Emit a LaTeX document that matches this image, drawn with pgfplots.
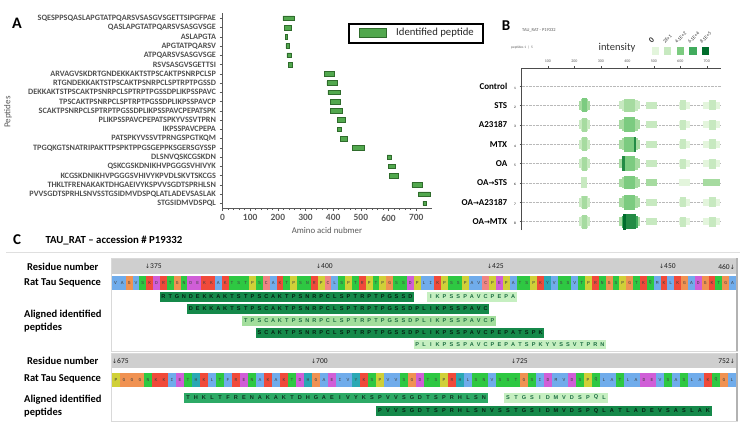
\documentclass[border=0pt]{standalone}
\usepackage{pgfplots}
\pgfplotsset{compat=1.18}
\usepackage{pgfplotstable}
\usepackage{fontspec}
\setmainfont{Carlito}
\newfontfamily\djv{DejaVu Sans}
\newfontfamily\lmono{Liberation Mono}
\newfontfamily\lsans{Liberation Sans}
\newcommand\fs[1]{\fontsize{#1}{#1}\selectfont}

\definecolor{barg}{HTML}{52A84E}
\definecolor{bard}{HTML}{2F6B2C}
\definecolor{lab}{HTML}{595959}
\definecolor{aahyd}{RGB}{112,172,235}
\definecolor{aapos}{RGB}{240,74,58}
\definecolor{aaneg}{RGB}{208,94,215}
\definecolor{aapol}{RGB}{46,200,66}
\definecolor{aagly}{RGB}{240,146,82}
\definecolor{aapro}{RGB}{208,208,56}
\definecolor{aacys}{RGB}{240,132,132}
\definecolor{aaaro}{RGB}{42,168,180}
\colorlet{aaA}{aahyd}\colorlet{aaV}{aahyd}\colorlet{aaL}{aahyd}\colorlet{aaI}{aahyd}
\colorlet{aaM}{aahyd}\colorlet{aaF}{aahyd}\colorlet{aaW}{aahyd}
\colorlet{aaK}{aapos}\colorlet{aaR}{aapos}
\colorlet{aaD}{aaneg}\colorlet{aaE}{aaneg}
\colorlet{aaS}{aapol}\colorlet{aaT}{aapol}\colorlet{aaN}{aapol}\colorlet{aaQ}{aapol}
\colorlet{aaG}{aagly}\colorlet{aaP}{aapro}\colorlet{aaC}{aacys}
\colorlet{aaH}{aaaro}\colorlet{aaY}{aaaro}

\definecolor{iA}{HTML}{E3F5DC}
\definecolor{iB}{HTML}{C7E9C0}
\definecolor{iC}{HTML}{A6DBA0}
\definecolor{iD}{HTML}{7CCB80}
\definecolor{iE}{HTML}{41AB5D}
\definecolor{iF}{HTML}{238B45}
\definecolor{iG}{HTML}{006D2C}

\definecolor{pdark}{HTML}{15894A}
\definecolor{pmed}{HTML}{2DAA66}
\definecolor{plmed}{HTML}{A3DE9C}
\definecolor{plight}{HTML}{C6EFC1}

\makeatletter
\def\cells#1#2#3#4#5{\def\sq@x{#1}\def\sq@w{#2}\def\sq@y{#3}\def\sq@h{#4}\sq@cl#5\@nil}
\def\sq@cl#1{\ifx#1\@nil\else
  \fill[aa#1] (\sq@x,\sq@y) rectangle ++(\sq@w,\sq@h);
  \node[font=\lmono\fs{4.6}, text=black!75, inner sep=0pt] at ({\sq@x+\sq@w/2},{\sq@y+\sq@h/2}) {#1};
  \pgfmathsetmacro\sq@x{\sq@x+\sq@w}%
  \expandafter\sq@cl\fi}
\def\plet#1#2#3#4#5{\def\sq@x{#1}\def\sq@w{#2}\def\sq@y{#3}\def\sq@c{#4}\sq@pl#5\@nil}
\def\sq@pl#1{\ifx#1\@nil\else
  \node[font=\lsans\bfseries\fs{5.6}, text=\sq@c, inner sep=0pt] at (\sq@x,\sq@y) {#1};
  \pgfmathsetmacro\sq@x{\sq@x+\sq@w}%
  \expandafter\sq@pl\fi}
\makeatother

\newcommand\bl[5]{\addplot[draw=#4, line width=#5pt] coordinates {(#2,#1) (#3,#1)};}
\newcommand\arr{{\djv\fs{7}→}}
\newcommand\rl[2]{\textbf{#1}\hspace{7pt}{\fs{3.5}#2}}

\pgfplotstableread{
y start len
21 218 41
20 225 24
19 226 8
18 229 12
17 233 16
16 238 15
15 368 37
14 377 37
13 381 44
12 389 37
11 391 42
10 414 28
9 416 13
8 427 23
7 470 42
6 595 14
5 600 24
4 602 35
3 684 38
2 708 42
1 724 13
}\pepA

\begin{document}
\begin{tikzpicture}
\path[use as bounding box] (0pt,0pt) rectangle (743pt,-433pt);

% ---------- background for panel C
\begin{scope}[x=1pt,y=-1pt]
\draw[gray!25, line width=0.6pt] (6,252) -- (740,252);
\draw[gray!30, fill=white] (111,258) rectangle (737,351);
\draw[gray!30, fill=white] (111,353) rectangle (737,421);
\fill[gray!38] (112,259) rectangle (736,274);
\fill[gray!38] (112,354) rectangle (736,368);
\draw[gray!60, line width=1.6pt] (737,258) -- (737,351);
\draw[gray!60, line width=1.6pt] (737,353) -- (737,421);
\end{scope}

% ---------- Panel A
\begin{axis}[
  at={(222.5pt,-208pt)}, anchor=south west, scale only axis,
  width=209.5pt, height=195pt,
  xmin=0, xmax=757, ymin=0.5, ymax=21.57,
  axis lines*=left,
  axis line style={lab, line width=0.7pt},
  xbar stacked, bar width=4.6pt,
  xtick={0,100,...,700}, minor x tick num=4,
  ytick={1,...,21},
  yticklabels={STGSIDMVDSPQL,PVVSGDTSPRHLSNVSSTGSIDMVDSPQLATLADEVSASLAK,THKLTFRENAKAKTDHGAEIVYKSPVVSGDTSPRHLSN,KCGSKDNIKHVPGGGSVHIVYKPVDLSKVTSKCGS,QSKCGSKDNIKHVPGGGSVHIVYK,DLSNVQSKCGSKDN,TPGQKGTSNATRIPAKTTPSPKTPPGSGEPPKSGERSGYSSP,PATSPKYVSSVTPRNGSPGTKQM,IKPSSPAVCPEPA,PLIKPSSPAVCPEPATSPKYVSSVTPRN,SCAKTPSNRPCLSPTRPTPGSSDPLIKPSSPAVCPEPATSPK,TPSCAKTPSNRPCLSPTRPTPGSSDPLIKPSSPAVCP,DEKKAKTSTPSCAKTPSNRPCLSPTRPTPGSSDPLIKPSSPAVC,RTGNDEKKAKTSTPSCAKTPSNRPCLSPTRPTPGSSD,ARVAGVSKDRTGNDEKKAKTSTPSCAKTPSNRPCLSP,RSVSASGVSGETTSI,ATPQARSVSASGVSGE,APGTATPQARSV,ASLAPGTA,QASLAPGTATPQARSVSASGVSGE,SQESPPSQASLAPGTATPQARSVSASGVSGETTSIPGFPAE},
  tick style={lab, line width=0.5pt},
  tick align=outside, major tick length=3pt, minor tick length=2pt,
  x tick label style={font=\bfseries\fs{9.5}, text=lab},
  y tick label style={font=\bfseries\fs{8.2}, text=lab!90!black},
  /pgf/number format/assume math mode=true,
  clip=false,
]
\addplot[draw=none, fill=none] table[x=start, y=y]{\pepA};
\addplot[fill=barg, draw=bard, line width=0.6pt] table[x=len, y=y]{\pepA};
\end{axis}

% ---------- Panel B
\begin{axis}[
  at={(521.5pt,-230pt)}, anchor=south west, scale only axis,
  width=199pt, height=162pt,
  xmin=0, xmax=752, ymin=0.57, ymax=8.93,
  axis x line*=top, axis y line*=left, no markers,
  xtick={100,200,...,700}, ytick={1,...,8},
  yticklabels={\rl{OA\arr MTX}{8},\rl{OA\arr A23187}{7},\rl{OA\arr STS}{6},\rl{OA}{5},\rl{MTX}{4},\rl{A23187}{3},\rl{STS}{2},\rl{Control}{1}},
  ymajorgrids, grid style={densely dotted, gray!55, line width=0.4pt},
  axis line style={gray!60!black, line width=0.5pt},
  tick style={gray!60!black, line width=0.4pt},
  major tick length=2pt, tick align=outside,
  x tick label style={font=\fs{4}, text=gray!70!black},
  y tick label style={font=\fs{9}, text=black},
  /pgf/number format/assume math mode=true,
  clip=false,
]
% STS
\bl{7}{218}{258}{iC}{9}\bl{7}{224}{253}{iC}{12}\bl{7}{230}{248}{iD}{14}
\bl{7}{368}{449}{iB}{8}\bl{7}{378}{440}{iB}{11}\bl{7}{388}{430}{iC}{13}
\bl{7}{470}{511}{iB}{7}
\bl{7}{595}{636}{iA}{7}\bl{7}{600}{623}{iB}{10}
\bl{7}{684}{749}{iA}{7}\bl{7}{708}{736}{iB}{10}
% A23187
\bl{6}{218}{258}{iB}{9}\bl{6}{224}{253}{iB}{12}\bl{6}{230}{248}{iC}{14}
\bl{6}{368}{449}{iC}{9}\bl{6}{378}{440}{iC}{12}\bl{6}{388}{430}{iD}{15}
\bl{6}{470}{511}{iB}{7}
\bl{6}{595}{636}{iA}{7}\bl{6}{600}{623}{iB}{10}
\bl{6}{684}{749}{iA}{7}\bl{6}{708}{736}{iB}{10}
% MTX
\bl{5}{218}{258}{iB}{9}\bl{5}{224}{253}{iB}{12}\bl{5}{230}{248}{iC}{14}
\bl{5}{368}{449}{iC}{9}\bl{5}{378}{440}{iC}{12}\bl{5}{388}{430}{iD}{15}\bl{5}{426}{434}{iF}{15}
\bl{5}{470}{511}{iB}{7}
\bl{5}{595}{636}{iA}{7}\bl{5}{600}{623}{iB}{10}
\bl{5}{684}{749}{iA}{7}\bl{5}{708}{736}{iB}{10}
% OA
\bl{4}{218}{258}{iB}{9}\bl{4}{224}{253}{iB}{12}\bl{4}{230}{248}{iC}{14}
\bl{4}{368}{449}{iC}{9}\bl{4}{378}{440}{iC}{12}\bl{4}{388}{430}{iD}{15}\bl{4}{381}{390}{iF}{15}
\bl{4}{470}{511}{iB}{7}
\bl{4}{595}{636}{iA}{7}\bl{4}{600}{623}{iB}{10}
\bl{4}{684}{749}{iA}{7}\bl{4}{708}{736}{iB}{10}
% OA->STS
\bl{3}{226}{248}{iB}{11}
\bl{3}{368}{449}{iC}{8}\bl{3}{378}{440}{iC}{11}\bl{3}{388}{430}{iD}{13}
\bl{3}{470}{511}{iC}{7}
\bl{3}{595}{636}{iA}{7}
\bl{3}{684}{749}{iC}{7}
% OA->A23187
\bl{2}{218}{258}{iB}{9}\bl{2}{224}{253}{iB}{12}\bl{2}{230}{248}{iC}{13}
\bl{2}{368}{449}{iC}{9}\bl{2}{378}{440}{iC}{12}\bl{2}{388}{430}{iD}{15}
\bl{2}{470}{511}{iB}{7}
\bl{2}{595}{636}{iA}{7}\bl{2}{600}{623}{iB}{10}
\bl{2}{684}{749}{iA}{7}\bl{2}{708}{736}{iB}{10}
% OA->MTX
\bl{1}{218}{258}{iB}{9}\bl{1}{224}{253}{iB}{12}\bl{1}{230}{248}{iC}{14}
\bl{1}{368}{449}{iC}{9}\bl{1}{378}{440}{iE}{12}\bl{1}{385}{432}{iF}{15}\bl{1}{385}{396}{iG}{16}
\bl{1}{470}{511}{iB}{7}
\bl{1}{595}{636}{iA}{7}\bl{1}{600}{623}{iB}{10}
\bl{1}{684}{749}{iA}{7}\bl{1}{708}{736}{iB}{10}
\end{axis}

% ---------- Panel C peptide bars
\begin{axis}[
  at={(112pt,-351pt)}, anchor=south west, scale only axis,
  width=624pt, height=60pt, xmin=369.5, xmax=460.5, ymin=-351, ymax=-291,
  hide axis, no markers, clip=false]
\addplot[draw=pdark, line width=9.5pt] coordinates {(376.5,-297) (413.5,-297)};
\addplot[draw=plight, line width=9.5pt] coordinates {(415.5,-297) (428.5,-297)};
\addplot[draw=pdark, line width=9.5pt] coordinates {(380.5,-309) (424.5,-309)};
\addplot[draw=plmed, line width=9.5pt] coordinates {(388.5,-321) (425.5,-321)};
\addplot[draw=pdark, line width=9.5pt] coordinates {(390.5,-333) (432.5,-333)};
\addplot[draw=plight, line width=9.5pt] coordinates {(413.5,-344.5) (441.5,-344.5)};
\end{axis}
\begin{axis}[
  at={(112pt,-421pt)}, anchor=south west, scale only axis,
  width=624pt, height=30pt, xmin=674.5, xmax=752.5, ymin=-421, ymax=-391,
  hide axis, no markers, clip=false]
\addplot[draw=pmed, line width=10pt] coordinates {(683.5,-397.5) (721.5,-397.5)};
\addplot[draw=plight, line width=10pt] coordinates {(723.5,-397.5) (736.5,-397.5)};
\addplot[draw=pdark, line width=10pt] coordinates {(707.5,-411) (749.5,-411)};
\end{axis}

% ---------- foreground text
\begin{scope}[x=1pt,y=-1pt]
% Panel A
\node[font=\bfseries\fs{16}] at (17,23) {A};
\node[rotate=90, font=\fs{9}, text=lab] at (8,112) {Peptides};
\node[font=\fs{8.8}, text=lab] at (327,230) {Amino acid nubmer};
\draw[black, line width=1.2pt] (349,24) rectangle (483,43);
\draw[bard, fill=barg, line width=0.8pt] (359,28) rectangle (386,37);
\node[anchor=west, font=\fs{10.7}, text=black!85, inner sep=0pt] at (396,33) {Identified peptide};
% Panel B
\node[font=\bfseries\fs{15}] at (506,26) {B};
\node[anchor=west, font=\fs{4.5}, text=gray!70!black, inner sep=0pt] at (522,30) {TAU\_RAT - P19332};
\node[anchor=west, font=\fs{3.5}, text=gray!70!black, inner sep=0pt] at (511,48) {peptides 1\enspace|\enspace 5};
\node[font=\fs{10.5}, text=black!80] at (617,48) {intensity};
\fill[iA] (652,47) rectangle (659,55);
\fill[iB] (664,47) rectangle (671,55);
\fill[iD] (677,47) rectangle (684,55);
\fill[iE] (689,47) rectangle (697,55);
\fill[iG] (702,47) rectangle (709,55);
\node[rotate=45, anchor=south west, font=\bfseries\fs{8}, text=black!80, inner sep=0pt] at (652,44) {0};
\node[rotate=45, anchor=south west, font=\fs{5}, text=black!80, inner sep=0pt] at (665,44) {2E+1};
\node[rotate=45, anchor=south west, font=\fs{5}, text=black!80, inner sep=0pt] at (677,44) {4.1E+2};
\node[rotate=45, anchor=south west, font=\fs{5}, text=black!80, inner sep=0pt] at (690,44) {6.1E+4};
\node[rotate=45, anchor=south west, font=\fs{5}, text=black!80, inner sep=0pt] at (702,44) {8.1E+5};
% Panel C
\node[font=\bfseries\fs{15}] at (17,240) {C};
\node[anchor=west, font=\bfseries\fs{10.8}] at (42,240) {TAU\_RAT – accession \# P19332};
\begin{scope}[every node/.style={anchor=west, font=\bfseries\fs{10.5}, inner sep=0pt}]
\node at (27,267) {Residue number};
\node at (24,283) {Rat Tau Sequence};
\node at (24,315) {Aligned identified};
\node at (24,328) {peptides};
\node at (27,361) {Residue number};
\node at (24,379) {Rat Tau Sequence};
\node at (24,400) {Aligned identified};
\node at (24,413) {peptides};
\end{scope}
\begin{scope}[every node/.style={font=\fs{7.5}, text=gray!25!black, inner sep=0pt}]
\node[anchor=west] at (145,266.5) {{\djv\fs{6}↓}375};
\node[anchor=west] at (316,266.5) {{\djv\fs{6}↓}400};
\node[anchor=west] at (487,266.5) {{\djv\fs{6}↓}425};
\node[anchor=west] at (659,266.5) {{\djv\fs{6}↓}450};
\node[anchor=east] at (735,266.5) {460{\djv\fs{6}↓}};
\node[anchor=west] at (112,361) {{\djv\fs{6}↓}675};
\node[anchor=west] at (311,361) {{\djv\fs{6}↓}700};
\node[anchor=west] at (511,361) {{\djv\fs{6}↓}725};
\node[anchor=east] at (735,361) {752{\djv\fs{6}↓}};
\end{scope}
\cells{112}{6.857}{276}{13.5}{VAGVSKDRTGNDEKKAKTSTPSCAKTPSNRPCLSPTRPTPGSSDPLIKPSSPAVCPEPATSPKYVSSVTPRNGSPGTKQMKLKGADGKTGA}
\cells{112}{8}{372.5}{14}{PGGGNKKIETHKLTFRENAKAKTDHGAEIVYKSPVVSGDTSPRHLSNVSSTGSIDMVDSPQLATLADEVSASLAKQGL}
\plet{163.43}{6.857}{297}{black!75!pdark}{RTGNDEKKAKTSTPSCAKTPSNRPCLSPTRPTPGSSD}
\plet{430.86}{6.857}{297}{black!35!pmed}{IKPSSPAVCPEPA}
\plet{190.86}{6.857}{309}{black!75!pdark}{DEKKAKTSTPSCAKTPSNRPCLSPTRPTPGSSDPLIKPSSPAVC}
\plet{245.71}{6.857}{321}{black!35!pmed}{TPSCAKTPSNRPCLSPTRPTPGSSDPLIKPSSPAVCP}
\plet{259.43}{6.857}{333}{black!75!pdark}{SCAKTPSNRPCLSPTRPTPGSSDPLIKPSSPAVCPEPATSPK}
\plet{417.14}{6.857}{344.5}{black!35!pmed}{PLIKPSSPAVCPEPATSPKYVSSVTPRN}
\plet{188}{8}{397.5}{black!70!pmed}{THKLTFRENAKAKTDHGAEIVYKSPVVSGDTSPRHLSN}
\plet{508}{8}{397.5}{black!35!pmed}{STGSIDMVDSPQL}
\plet{380}{8}{411}{black!75!pdark}{PVVSGDTSPRHLSNVSSTGSIDMVDSPQLATLADEVSASLAK}
\end{scope}
\end{tikzpicture}
\end{document}
